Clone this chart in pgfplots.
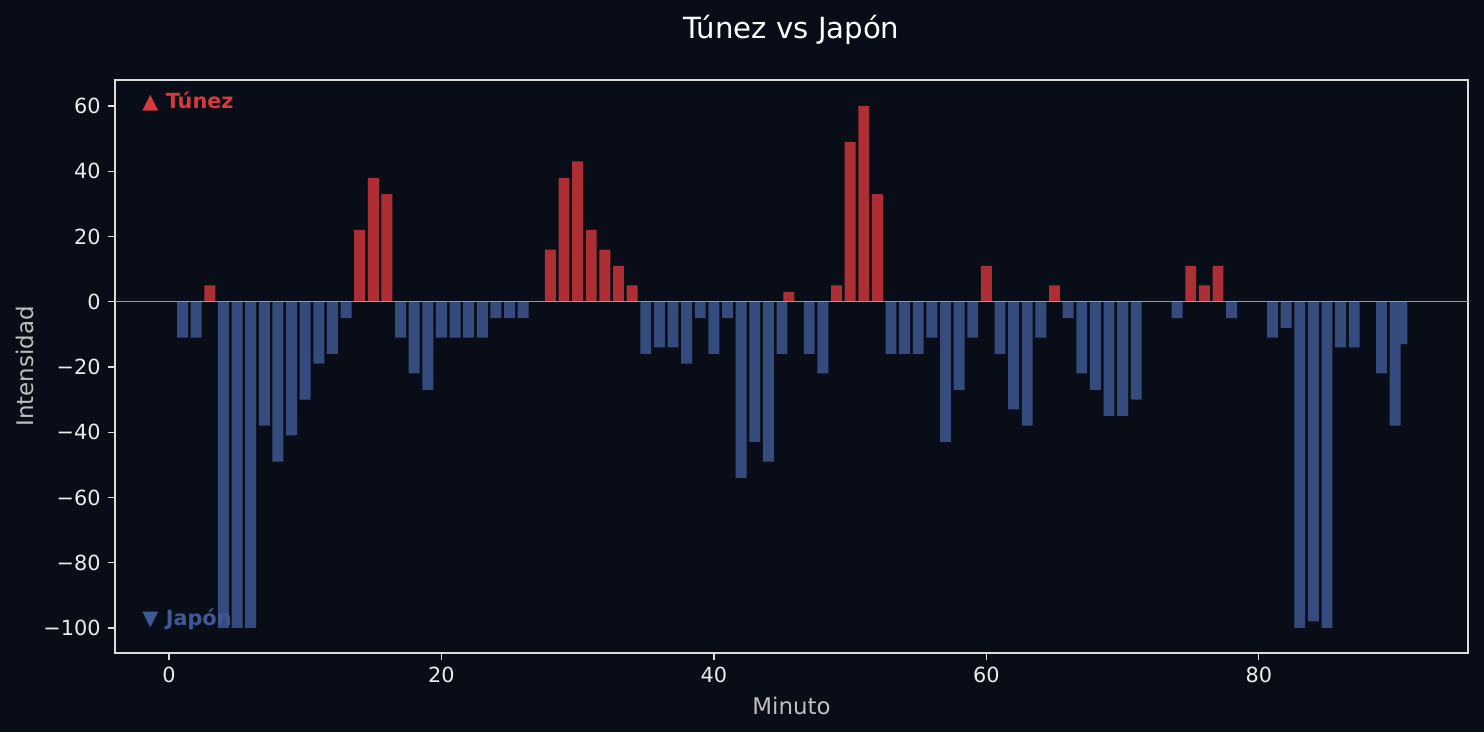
\documentclass[border=0pt]{standalone}
\usepackage{pgfplots}
\pgfplotsset{compat=1.18}
\usepackage{fontspec}
\setmainfont{DejaVu Sans}
\definecolor{bg}{RGB}{8,13,24}
\definecolor{tun}{RGB}{202,54,58}
\definecolor{jap}{RGB}{61,86,143}
\definecolor{tunlbl}{RGB}{215,58,62}
\definecolor{japlbl}{RGB}{63,89,150}
\definecolor{frame}{RGB}{220,220,220}
\definecolor{lbl}{RGB}{190,190,190}
\definecolor{tlbl}{RGB}{235,235,235}

\begin{document}
\begin{tikzpicture}
\fill[bg] (0,0) rectangle (712.32pt,351.36pt);
\useasboundingbox (0,0) rectangle (712.32pt,351.36pt);
\begin{axis}[
  at={(55.2pt,37.92pt)}, anchor=south west,
  scale only axis, width=649.44pt, height=275.04pt,
  xmin=-3.96, xmax=95.35, ymin=-107.7, ymax=67.97,
  axis line style={frame, line width=0.6pt},
  tick style={frame, line width=0.6pt},
  tick align=outside, major tick length=3.36pt,
  xtick pos=bottom, ytick pos=left,
  xtick={0,20,40,60,80},
  ytick={-100,-80,-60,-40,-20,0,20,40,60},
  yticklabels={−100,−80,−60,−40,−20,0,20,40,60},
  /pgf/number format/assume math mode=true,
  ticklabel style={font=\fontsize{10}{12}\selectfont, text=tlbl},
  xlabel={Minuto}, ylabel={Intensidad},
  label style={font=\fontsize{11}{13}\selectfont, text=lbl},
  xlabel style={at={(axis description cs:0.5,0)}, anchor=center, yshift=-25.4pt},
  ylabel style={at={(axis description cs:0,0.5)}, anchor=center, yshift=43.2pt},
  title={Túnez vs Japón},
  title style={font=\fontsize{14}{17}\selectfont, text=white, at={(axis description cs:0.5,1)}, anchor=center, yshift=18.24pt},
  ybar, bar width=0.8, bar shift=0pt,
]
\node[anchor=west, text=tunlbl, font=\bfseries\fontsize{10}{12}\selectfont, inner sep=0pt] at (rel axis cs:0.02,0.963) {▲ Túnez};
\node[anchor=west, text=japlbl, font=\bfseries\fontsize{10}{12}\selectfont, inner sep=0pt] at (rel axis cs:0.02,0.059) {▼ Japón};

% Túnez (positive)
\addplot[fill=tun, fill opacity=0.85, draw=none] coordinates {
(3,5) (14,22) (15,38) (16,33) (28,16) (29,38) (30,43) (31,22) (32,16) (33,11) (34,5)
(45.5,3) (49,5) (50,49) (51,60) (52,33) (60,11) (65,5) (75,11) (76,5) (77,11)};

% Japón (negative)
\addplot[fill=jap, fill opacity=0.85, draw=none] coordinates {
(1,-11) (2,-11) (4,-100) (5,-100) (6,-100) (7,-38) (8,-49) (9,-41) (10,-30) (11,-19)
(12,-16) (13,-5) (17,-11) (18,-22) (19,-27) (20,-11) (21,-11) (22,-11) (23,-11)
(24,-5) (25,-5) (26,-5) (35,-16) (36,-14) (37,-14) (38,-19) (39,-5) (40,-16) (41,-5)
(42,-54) (43,-43) (44,-49) (45,-16) (47,-16) (48,-22) (53,-16) (54,-16) (55,-16)
(56,-11) (57,-43) (58,-27) (59,-11) (61,-16) (62,-33) (63,-38) (64,-11) (66,-5)
(67,-22) (68,-27) (69,-35) (70,-35) (71,-30) (74,-5) (78,-5) (81,-11) (82,-8)
(83,-100) (84,-98) (85,-100) (86,-14) (87,-14) (89,-22) (90,-38) (90.5,-13)};

% zero line
\addplot[sharp plot, color=gray!80, line width=0.4pt, forget plot] coordinates {(-3.96,0) (95.35,0)};
\end{axis}
\end{tikzpicture}
\end{document}
